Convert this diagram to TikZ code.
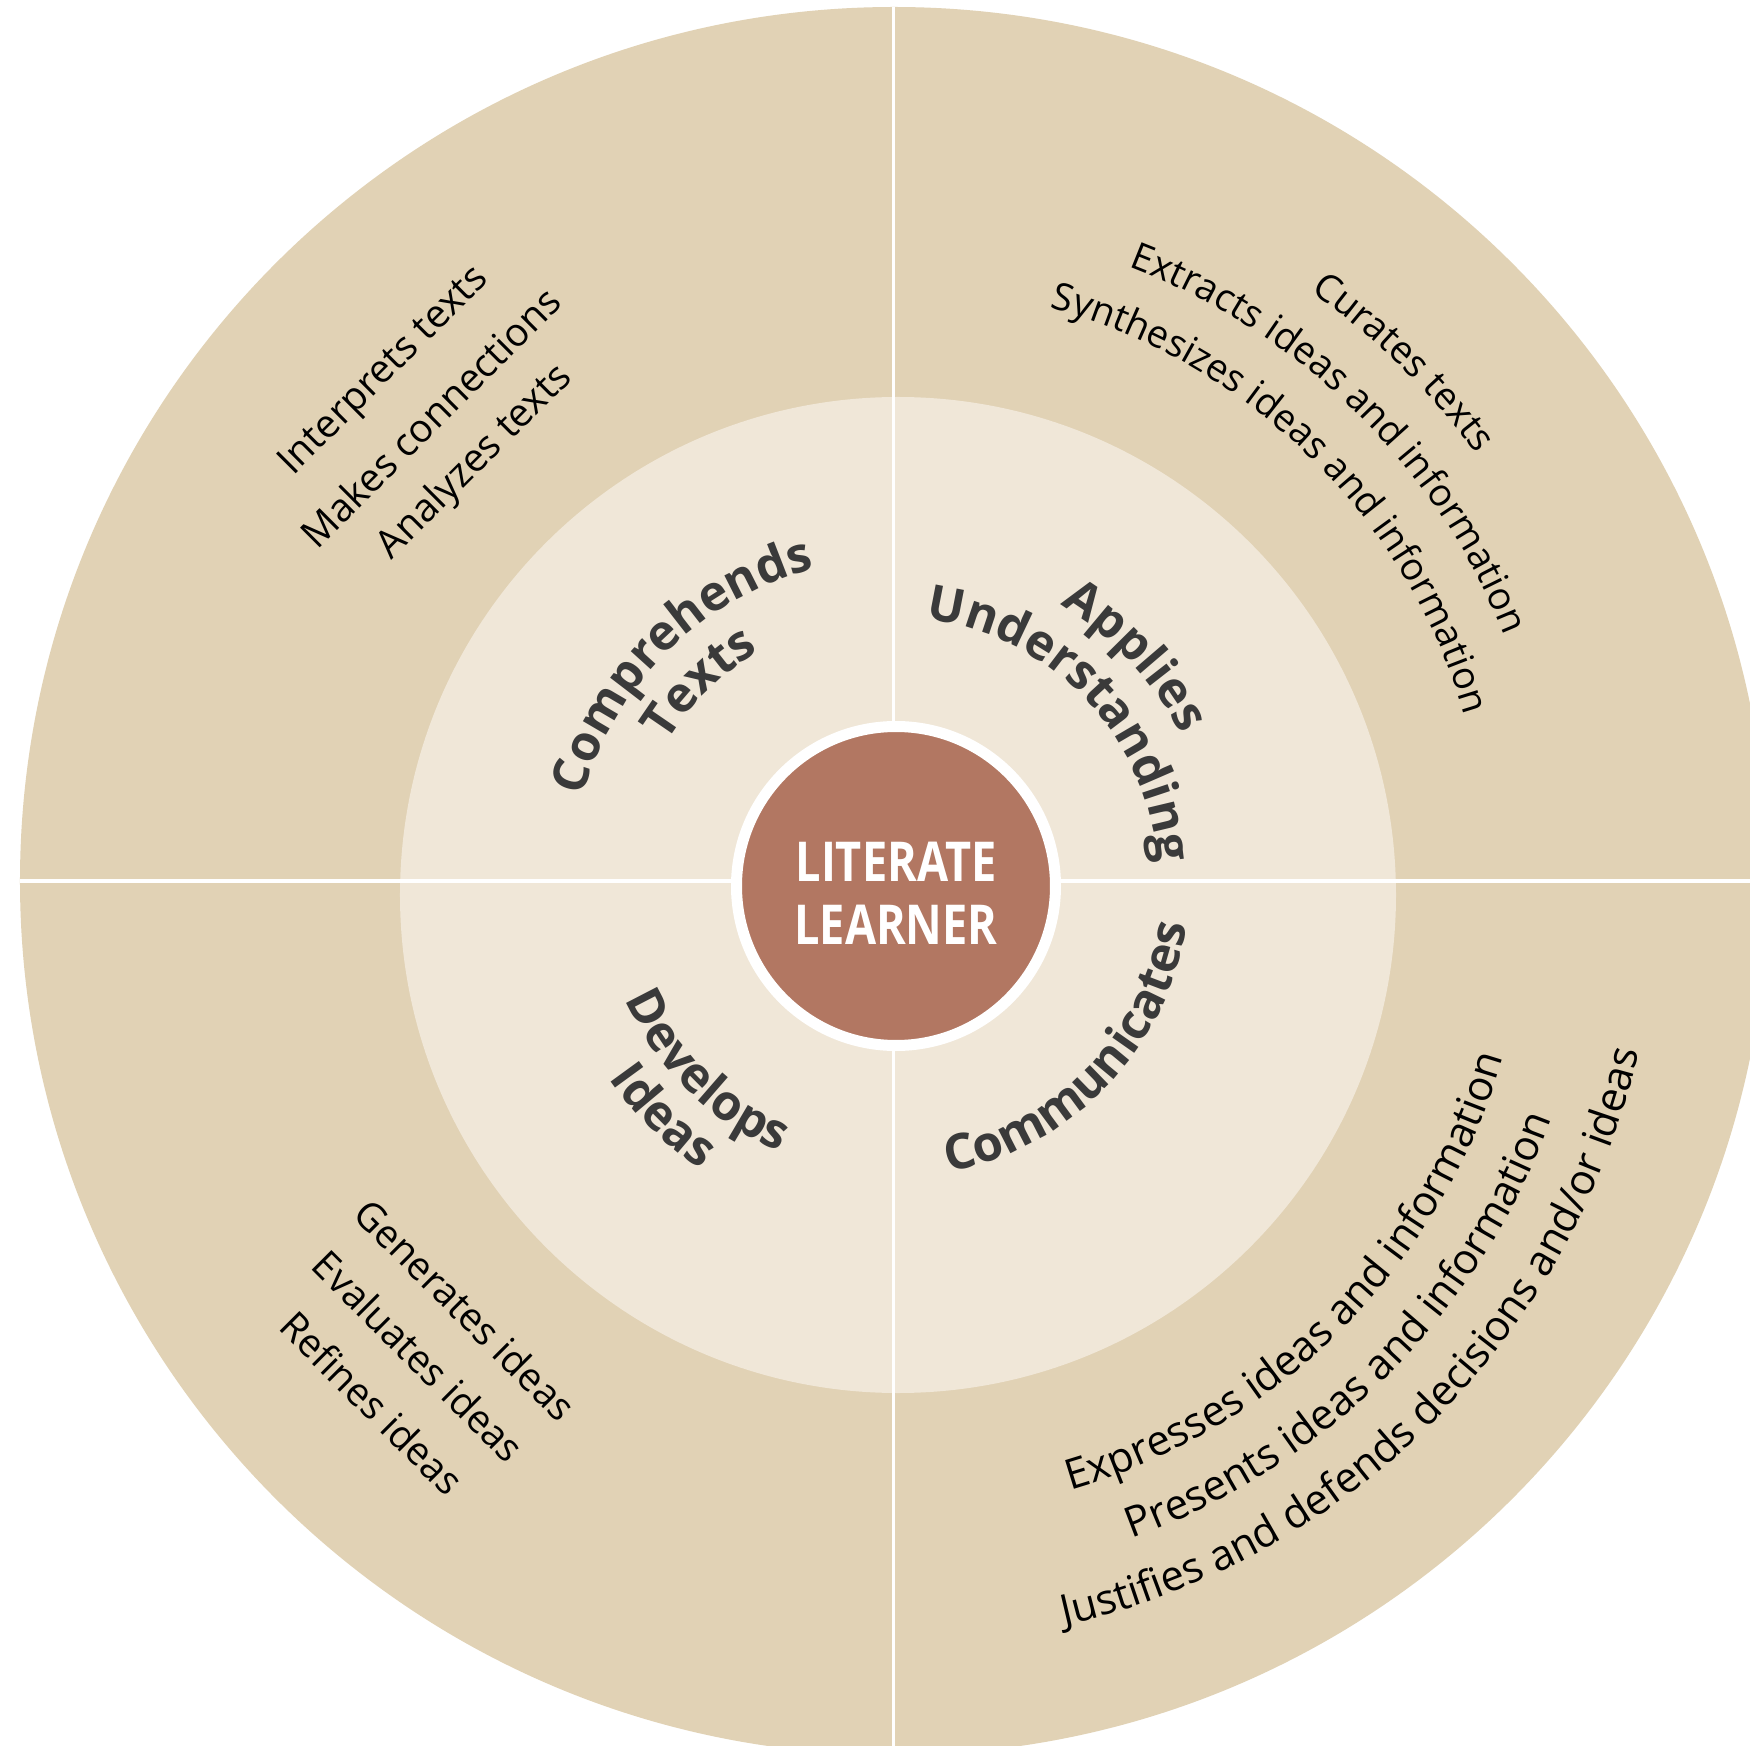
\documentclass[tikz,border=0pt]{standalone}
\usepackage{fontspec}
\setmainfont{Open Sans}
\newfontfamily\centerfont[FakeStretch=0.82]{Open Sans}
\usetikzlibrary{decorations.text,positioning}
\definecolor{outertan}{RGB}{225,210,181}
\definecolor{innercream}{RGB}{240,231,216}
\definecolor{learnerbrown}{RGB}{178,119,98}
\definecolor{labelgray}{RGB}{58,58,58}
\newcommand{\sectorfont}{\bfseries\fontsize{49}{59}\selectfont\color{labelgray}}
\newcommand{\entryfont}{\fontsize{39}{47}\selectfont\color{black}}
\newcommand{\entryfonta}{\fontsize{38}{46}\selectfont\color{black}}
\newcommand{\entryfontb}{\fontsize{42}{50}\selectfont\color{black}}

\begin{document}
\begin{tikzpicture}
  [x=1pt, y=1pt,
   every node/.style={inner sep=0pt},
   divider/.style={draw=white, line width=3.3pt},
   entry/.style={font=\entryfont, anchor=center},
   outarc/.style={decorate, decoration={text along path, text align=center, text={|\sectorfont|#1}}},
   entryarc/.style={decorate, decoration={text along path, text align=center, text={|\entryfonta|#1}}},
   entryarcb/.style={decorate, decoration={text along path, text align=center, text={|\entryfontb|#1}}}]
  \useasboundingbox (-894,-864) rectangle (856,881);
  \fill[white] (-894,-864) rectangle (856,881);
  \clip (-894,-864) rectangle (856,881);

  % rings
  \fill[outertan] (0,0) circle[radius=874];
  \fill[innercream] (4,-14) circle[radius=498];
  \draw[divider] (-874,0) -- (874,0);
  \draw[divider] (-0.5,874) -- (-0.5,-874);
  \node[circle, minimum size=319pt, fill=learnerbrown, draw=white, line width=11pt]
        (learner) at (2,-5) {};
  \node[text=white, align=center, font=\centerfont\bfseries\fontsize{55}{63}\selectfont]
        (learnertext) at ([yshift=-7pt]learner.center) {LITERATE\\LEARNER};

  % sector names
  \path[outarc={Comprehends}] (194.5:322) arc[start angle=194.5, end angle=74.5, radius=322];
  \path[outarc={Texts}] (194.5:266) arc[start angle=194.5, end angle=74.5, radius=266];
  \path[outarc={Applies}] (103:322) arc[start angle=103, end angle=-17, radius=322];
  \path[outarc={Understanding}] (103.5:264) arc[start angle=103.5, end angle=-16.5, radius=264];
  \path[outarc={Develops}] (165.5:294) arc[start angle=165.5, end angle=285.5, radius=294];
  \path[outarc={Ideas}] (165.5:347) arc[start angle=165.5, end angle=285.5, radius=347];
  \path[outarc={Communicates}] (-104:296) arc[start angle=-104, end angle=16, radius=296];

  % top left
  \node[entry, rotate=45] (interprets) at (135:720) {Interprets texts};
  \node[entry, rotate=45] (connections) at (135:656) {Makes connections};
  \node[entry, rotate=45] (analyzes) at (135:592) {Analyzes texts};

  % top right
  \path[entryarc={Curates texts}] (80.5:722) arc[start angle=80.5, end angle=10.5, radius=722];
  \path[entryarc={Extracts ideas and information}] (85.5:658) arc[start angle=85.5, end angle=5.5, radius=658];
  \path[entryarc={Synthesizes ideas and information}] (90.5:594) arc[start angle=90.5, end angle=0.5, radius=594];

  % bottom left
  \node[entry, rotate=-45] (generates) at (225:606) {Generates ideas};
  \node[entry, rotate=-45] (evaluates) at (225:672) {Evaluates ideas};
  \node[entry, rotate=-45] (refines) at (225:738) {Refines ideas};

  % bottom right
  \path[entryarcb={Expresses ideas and information}] (-90:634) arc[start angle=-90, end angle=0, radius=634];
  \path[entryarcb={Presents ideas and information}] (-90:699) arc[start angle=-90, end angle=0, radius=699];
  \path[entryarcb={Justifies and defends decisions and/or ideas}] (-95:764) arc[start angle=-95, end angle=5, radius=764];
\end{tikzpicture}
\end{document}
